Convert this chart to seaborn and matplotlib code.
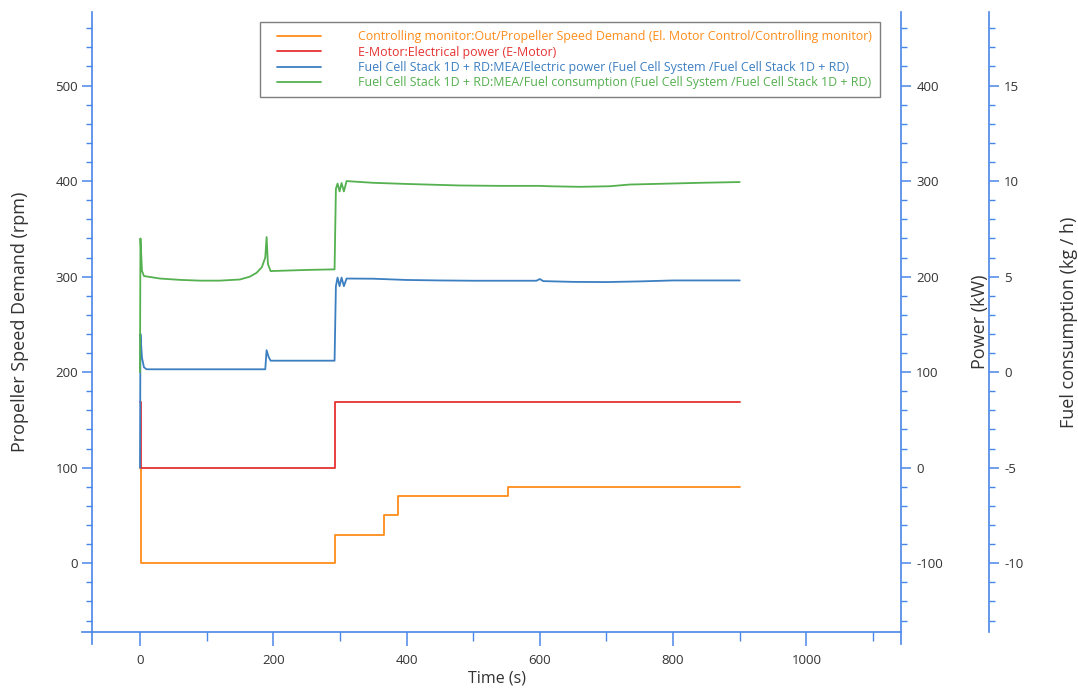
import matplotlib
matplotlib.use("Agg")
import matplotlib.pyplot as plt
import seaborn as sns
from matplotlib.lines import Line2D
from matplotlib.legend_handler import HandlerLine2D
from matplotlib.ticker import MultipleLocator

# --------------------------------------------------------------------------- #
# Data
# --------------------------------------------------------------------------- #
# Propeller speed demand (rpm), step signal
speed_t = [0, 1, 292, 366, 387, 553, 900]
speed_rpm = [100, 0, 30, 50, 70, 80, 80]

# E-Motor electrical power (kW), step signal
motor_t = [0, 2, 292, 900]
motor_kw = [69, 0, 69, 69]

# Fuel cell electric power (kW)
fc_power_t = [0, 0.7, 3, 6, 10, 60, 120, 188, 190, 193, 196, 250, 292,
              294, 296.5, 299.5, 302.5, 306, 310, 350, 400, 450, 500,
              595, 600, 605, 650, 700, 750, 800, 850, 900]
fc_power_kw = [0, 140, 115, 105, 103, 103, 103, 103, 123, 116, 112, 112, 112,
               190, 199, 190, 199, 190, 198, 197.8, 196.5, 196, 195.7,
               195.7, 197.5, 195.3, 194.5, 194.3, 195, 196, 196, 196]

# Fuel cell fuel consumption (kg/h)
fuel_t = [0, 0.7, 3, 6, 30, 60, 90, 120, 150, 165, 175, 183, 188, 190,
          192, 196, 250, 292, 294, 296.5, 299.5, 302.5, 306, 310, 350,
          400, 480, 540, 600, 614, 660, 705, 735, 795, 840, 900]
fuel_kgh = [0, 7.0, 5.3, 5.03, 4.9, 4.83, 4.79, 4.79, 4.85, 5.0, 5.2, 5.5,
            6.0, 7.07, 5.66, 5.29, 5.35, 5.38, 9.6, 9.87, 9.46, 9.9, 9.46,
            10.0, 9.91, 9.85, 9.77, 9.75, 9.75, 9.73, 9.70, 9.73, 9.82,
            9.87, 9.91, 9.95]

LABELS = [
    "Controlling monitor:Out/Propeller Speed Demand (El. Motor Control/Controlling monitor)",
    "E-Motor:Electrical power (E-Motor)",
    "Fuel Cell Stack 1D + RD:MEA/Electric power (Fuel Cell System /Fuel Cell Stack 1D + RD)",
    "Fuel Cell Stack 1D + RD:MEA/Fuel consumption (Fuel Cell System /Fuel Cell Stack 1D + RD)",
]
COLORS = ["#ff8c1a", "#e63232", "#3c7fc1", "#55b04f"]
AXIS_BLUE = "#4a86e8"
TEXT_GREY = "#333333"

# --------------------------------------------------------------------------- #
# Figure setup
# --------------------------------------------------------------------------- #
sns.set_theme(style="white")
plt.rcParams["font.family"] = ["Open Sans", "DejaVu Sans"]
plt.rcParams["axes.unicode_minus"] = False

fig = plt.figure(figsize=(10.78, 6.91), dpi=100)
ax = fig.add_axes([92 / 1078, 1 - 632 / 691, (901 - 92) / 1078, (632 - 12) / 691])
ax2 = ax.twinx()
ax3 = ax.twinx()

sns.lineplot(x=speed_t, y=speed_rpm, ax=ax, color=COLORS[0], lw=1.3,
             drawstyle="steps-post", errorbar=None, label=LABELS[0], legend=False)
sns.lineplot(x=motor_t, y=motor_kw, ax=ax2, color=COLORS[1], lw=1.3,
             drawstyle="steps-post", errorbar=None, label=LABELS[1], legend=False)
sns.lineplot(x=fc_power_t, y=fc_power_kw, ax=ax2, color=COLORS[2], lw=1.3,
             errorbar=None, label=LABELS[2], legend=False)
sns.lineplot(x=fuel_t, y=fuel_kgh, ax=ax3, color=COLORS[3], lw=1.3,
             errorbar=None, label=LABELS[3], legend=False)

# limits (the three y scales line up with each other)
ax.set_xlim(-72, 1142)
ax.set_ylim(-72, 577)
ax2.set_ylim(-172, 477)
ax3.set_ylim(-13.6, 18.85)

# --------------------------------------------------------------------------- #
# Spines and ticks
# --------------------------------------------------------------------------- #
for a in (ax, ax2, ax3):
    for s in a.spines.values():
        s.set_visible(False)
        s.set_color(AXIS_BLUE)
        s.set_linewidth(1.2)

ax.spines["left"].set_visible(True)
ax.spines["bottom"].set_visible(True)
ax.spines["left"].set_bounds(-85, 577)
ax.spines["bottom"].set_bounds(-87, 1142)
ax2.spines["right"].set_visible(True)
ax2.spines["right"].set_bounds(-185, 477)
ax3.spines["right"].set_visible(True)
ax3.spines["right"].set_position(("axes", (989 - 92) / (901 - 92)))

ax.xaxis.set_major_locator(MultipleLocator(200))
ax.xaxis.set_minor_locator(MultipleLocator(100))
ax.yaxis.set_major_locator(MultipleLocator(100))
ax.yaxis.set_minor_locator(MultipleLocator(20))
ax2.yaxis.set_major_locator(MultipleLocator(100))
ax2.yaxis.set_minor_locator(MultipleLocator(20))
ax3.yaxis.set_major_locator(MultipleLocator(5))
ax3.yaxis.set_minor_locator(MultipleLocator(1))

ax.tick_params(axis="x", which="major", bottom=True, length=10, width=1.1,
               color=AXIS_BLUE, labelsize=9.5, labelcolor=TEXT_GREY, pad=6)
ax.tick_params(axis="x", which="minor", bottom=True, length=6.5, width=1.0,
               color=AXIS_BLUE)
ax.tick_params(axis="y", which="major", left=True, right=False, length=7,
               width=1.1, color=AXIS_BLUE, labelsize=9.5, labelcolor=TEXT_GREY, pad=3)
ax.tick_params(axis="y", which="minor", left=True, right=False, length=4.3,
               width=1.0, color=AXIS_BLUE)
for a in (ax2, ax3):
    a.tick_params(axis="y", which="major", right=True, left=False, length=7,
                  width=1.1, color=AXIS_BLUE, labelsize=9.5, labelcolor=TEXT_GREY, pad=4)
    a.tick_params(axis="y", which="minor", right=True, left=False, length=4.3,
                  width=1.0, color=AXIS_BLUE)

# --------------------------------------------------------------------------- #
# Axis labels
# --------------------------------------------------------------------------- #
ax.set_xlabel("Time (s)", fontsize=11.5, color=TEXT_GREY)
ax.xaxis.set_label_coords(0.5, -0.062)
ax.set_ylabel("Propeller Speed Demand (rpm)", fontsize=13, color=TEXT_GREY)
ax.yaxis.set_label_coords((29 - 92) / 809, 0.5)
ax2.set_ylabel("Power (kW)", fontsize=13, color=TEXT_GREY)
ax2.yaxis.set_label_coords((971 - 92) / 809, 0.5)
ax3.set_ylabel("Fuel consumption (kg / h)", fontsize=13, color=TEXT_GREY)
ax3.yaxis.set_label_coords((1060 - 92) / 809, 0.5)

# --------------------------------------------------------------------------- #
# Legend (coloured text, on the topmost axes)
# --------------------------------------------------------------------------- #
handles = []
for a in (ax, ax2, ax3):
    handles += a.get_lines()
leg = ax3.legend(handles=handles, labels=LABELS, loc="upper right",
                 bbox_to_anchor=((880 - 92) / 809, 1 - (22 - 12) / 620),
                 borderaxespad=0, fontsize=8.9, frameon=True, fancybox=False,
                 framealpha=1, edgecolor="#7f7f7f", handlelength=4.3,
                 handletextpad=3.0, labelspacing=0.2, borderpad=0.65,
                 handler_map={Line2D: HandlerLine2D(xpad=0.75)})
leg.get_frame().set_linewidth(1.0)
for text, color in zip(leg.get_texts(), COLORS):
    text.set_color(color)

fig.savefig("out.png", dpi=100)
